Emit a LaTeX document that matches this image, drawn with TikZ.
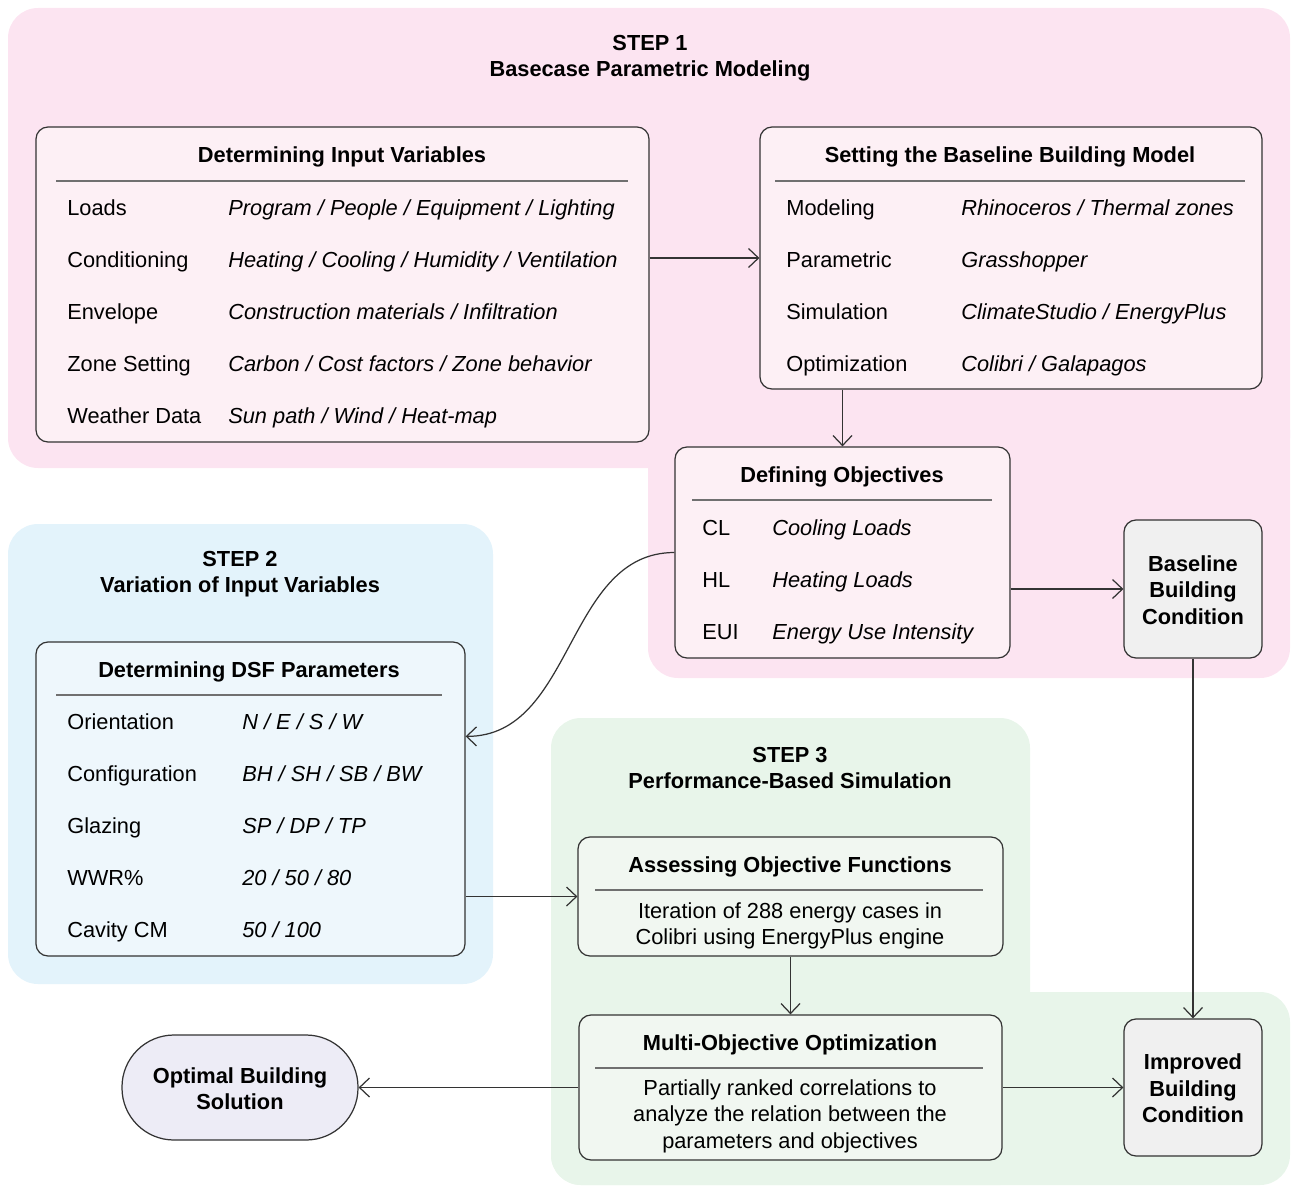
\documentclass[tikz,border=0pt]{standalone}
\usepackage{fontspec}
\setmainfont{Liberation Sans}
\usetikzlibrary{arrows.meta,fit,calc}

\definecolor{pinkbg}{HTML}{FCE4F1}
\definecolor{pinkbox}{HTML}{FDF0F5}
\definecolor{bluebg}{HTML}{E3F3FB}
\definecolor{bluebox}{HTML}{EEF7FC}
\definecolor{greenbg}{HTML}{E8F5EA}
\definecolor{greenbox}{HTML}{F1F7F1}
\definecolor{graybox}{HTML}{F0F0F0}
\definecolor{lavender}{HTML}{EDECF6}
\definecolor{boxline}{HTML}{333333}

\begin{document}
\begin{tikzpicture}[x=0.02cm,y=-0.02cm,
    >={Straight Barb[length=2mm,width=3.8mm]},
    font=\fontsize{12.4}{15}\selectfont,
    panel/.style={draw=boxline,line width=0.7pt,rounded corners=0.24cm,inner sep=0pt},
    title/.style={font=\fontsize{12.4}{15}\selectfont\bfseries},
    steptitle/.style={font=\fontsize{12.4}{14.8}\selectfont\bfseries,align=center},
    rowlab/.style={anchor=base west,inner sep=0pt},
    rowval/.style={anchor=base west,inner sep=0pt,font=\fontsize{12.4}{15}\selectfont\itshape},
    rule/.style={draw=boxline!70,line width=0.6pt},
    flow/.style={->,draw=boxline,line width=0.7pt}]
    \useasboundingbox (0,0) rectangle (1301,1186);

    % Coloured step regions
    \fill [pinkbg, rounded corners=0.6cm] (8,8) rectangle (1290,468);
    \fill [pinkbg, rounded corners=0.6cm] (648,400) rectangle (1290,678);
    \fill [bluebg, rounded corners=0.6cm] (8,524) rectangle (493,984);
    \fill [greenbg, rounded corners=0.6cm] (551,718) rectangle (1030,1185);
    \fill [greenbg, rounded corners=0.6cm] (551,992) rectangle (1290,1185);

    % Step headings
    \node [steptitle] (step1) at (650,58) {STEP 1\\Basecase Parametric Modeling};
    \node [steptitle] (step2) at (240,574) {STEP 2\\Variation of Input Variables};
    \node [steptitle] (step3) at (790,768) {STEP 3\\Performance-Based Simulation};

    % Determining input variables
    \node [panel, fill=pinkbox, fit={(36,127) (649,442)}] (inputs) {};
    \node [title] (inputstitle) at (342,157) {Determining Input Variables};
    \draw [rule] (56,181) -- (628,181);
    \foreach \i/\lab/\val in {
      0/Loads/{Program / People / Equipment / Lighting},
      1/Conditioning/{Heating / Cooling / Humidity / Ventilation},
      2/Envelope/{Construction materials / Infiltration},
      3/Zone Setting/{Carbon / Cost factors / Zone behavior},
      4/Weather Data/{Sun path / Wind / Heat-map}} {
      \node [rowlab] (inlab\i) at (67,215+52*\i) {\lab};
      \node [rowval] (inval\i) at (228,215+52*\i) {\val};
    }

    % Baseline building model
    \node [panel, fill=pinkbox, fit={(760,127) (1262,389)}] (model) {};
    \node [title] (modeltitle) at (1010,157) {Setting the Baseline Building Model};
    \draw [rule] (775,181) -- (1245,181);
    \foreach \i/\lab/\val in {
      0/Modeling/{Rhinoceros / Thermal zones},
      1/Parametric/{Grasshopper},
      2/Simulation/{ClimateStudio / EnergyPlus},
      3/Optimization/{Colibri / Galapagos}} {
      \node [rowlab] (mdlab\i) at (786,215+52*\i) {\lab};
      \node [rowval] (mdval\i) at (961,215+52*\i) {\val};
    }

    % Objectives
    \node [panel, fill=pinkbox, fit={(675,447) (1010,658)}] (objectives) {};
    \node [title] (objtitle) at (842,477) {Defining Objectives};
    \draw [rule] (692,500) -- (992,500);
    \foreach \i/\lab/\val in {
      0/CL/{Cooling Loads},
      1/HL/{Heating Loads},
      2/EUI/{Energy Use Intensity}} {
      \node [rowlab] (oblab\i) at (702,535+52*\i) {\lab};
      \node [rowval] (obval\i) at (772,535+52*\i) {\val};
    }

    \node [panel, fill=graybox, fit={(1124,520) (1262,658)}] (base) {};
    \node [title, align=center] (basetext) at ($(base.center)+(0,1)$) {Baseline\\Building\\Condition};

    % DSF parameters
    \node [panel, fill=bluebox, fit={(36,642) (465,956)}] (dsf) {};
    \node [title] (dsftitle) at (249,672) {Determining DSF Parameters};
    \draw [rule] (56,695) -- (442,695);
    \foreach \i/\lab/\val in {
      0/Orientation/{N / E / S / W},
      1/Configuration/{BH / SH / SB / BW},
      2/Glazing/{SP / DP / TP},
      3/WWR\%/{20 / 50 / 80},
      4/Cavity CM/{50 / 100}} {
      \node [rowlab] (dslab\i) at (67,729+52*\i) {\lab};
      \node [rowval] (dsval\i) at (242,729+52*\i) {\val};
    }

    % Simulation and optimisation
    \node [panel, fill=greenbox, fit={(578,837) (1003,956)}] (assess) {};
    \node [title] (assesstitle) at (790,867) {Assessing Objective Functions};
    \draw [rule] (595,890) -- (983,890);
    \node [align=center] (assesstext) at (790,926) {Iteration of 288 energy cases in\\Colibri using EnergyPlus engine};

    \node [panel, fill=greenbox, fit={(579,1015) (1002,1160)}] (multi) {};
    \node [title] (multititle) at (790,1045) {Multi-Objective Optimization};
    \draw [rule] (595,1068) -- (983,1068);
    \node [align=center] (multitext) at (790,1116) {Partially ranked correlations to\\analyze the relation between the\\parameters and objectives};

    \node [panel, fill=graybox, fit={(1124,1019) (1262,1156)}] (improved) {};
    \node [title, align=center] (improvedtext) at ($(improved.center)+(0,1)$) {Improved\\Building\\Condition};

    \node [panel, fill=lavender, rounded corners=1.04cm, fit={(122,1035) (358,1140)}] (optimal) {};
    \node [title, align=center] (optimaltext) at ($(optimal.center)+(0,1)$) {Optimal Building\\Solution};

    % Connectors
    \draw [flow] (inputs.east |- model.west) -- (model.west);
    \draw [flow] (model.south -| objectives.north) -- (objectives.north);
    \draw [flow] (objectives.west) to[out=180,in=0] ($(dsf.north east)+(0,95)$);
    \draw [flow] (objectives.east |- base.west) -- (base.west);
    \draw [flow] (base.south) -- (improved.north);
    \draw [flow] (dsf.east |- assess.west) -- (assess.west);
    \draw [flow] (assess.south) -- (multi.north);
    \draw [flow] (multi.east) -- (improved.west);
    \draw [flow] (multi.west) -- (optimal.east);
\end{tikzpicture}
\end{document}
